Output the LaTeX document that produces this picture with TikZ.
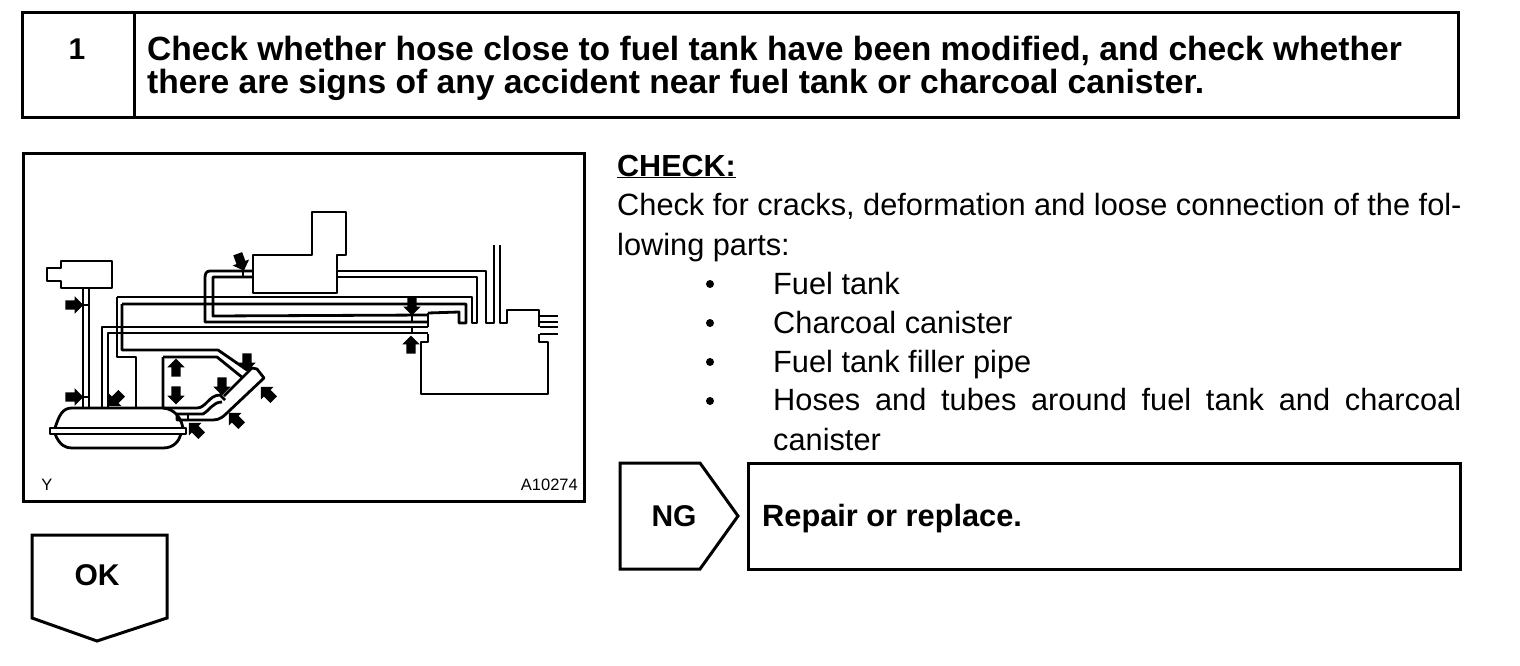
\documentclass[tikz,border=0pt]{standalone}
\usepackage{fontspec}
\setmainfont{Liberation Sans}
\usetikzlibrary{shapes.arrows}
\tikzset{
  boxline/.style={line width=3pt,line join=miter},
  partline/.style={line width=2.8pt,line join=round},
  flagarrow/.style={single arrow,fill=black,inner xsep=0pt,inner ysep=4.5pt,minimum width=17pt,
    minimum height=18pt,single arrow head extend=4pt,single arrow head indent=0pt},
  headtext/.style={font=\fontsize{33.6}{33}\selectfont\bfseries,anchor=west,align=left,inner sep=0pt},
  bodytext/.style={font=\fontsize{30.75}{40}\selectfont,anchor=base west,inner sep=0pt,align=left},
  dottext/.style={circle,fill=black,inner sep=0pt,minimum size=8pt},
  smalltext/.style={font=\fontsize{16.5}{18}\selectfont,inner sep=0pt}
}
\begin{document}
\begin{tikzpicture}[x=1pt,y=-1pt]
  \useasboundingbox (0,0) rectangle (1520,666);
  % header
  \draw[boxline] (22,13) rectangle (1458,118);
  \draw[boxline] (134,13) -- (134,118);
  \node[headtext,anchor=center,font=\fontsize{30}{33}\selectfont\bfseries] (num) at (77,49) {1};
  \node[headtext] (title) at (147,68) {Check whether hose close to fuel tank have been modified, and check whether\\there are signs of any accident near fuel tank or charcoal canister.};
  % figure frame
  \draw[boxline] (23,153) rectangle (584,501);
  \node[smalltext] (figy) at (47,485) {Y};
  \node[smalltext,anchor=east] (figno) at (578,485) {A10274};
  % parts
  \begin{scope}[partline]
    % canister at left
    \draw (47,268) -- (61,268) -- (61,261) -- (112,261) -- (112,288) -- (61,288) -- (61,281) -- (47,281) -- cycle;
    \draw (83,288) -- (83,408) (89,288) -- (89,408);
    \draw (83,305) -- (89,305) (83,397) -- (89,397);
    % tank
    \draw (50,428) rectangle (186,434);
    \draw (55,428) .. controls (59,416) and (62,408) .. (72,408) -- (163,408) .. controls (175,409) and (181,418) .. (183,428);
    \draw (55,434) .. controls (60,446) and (66,448) .. (72,448) -- (163,448) .. controls (174,448) and (179,441) .. (181,434);
    % pipes along the top
    \draw (102,408) -- (102,327) -- (428,327);
    \draw (108,408) -- (108,333) -- (428,333);
    \draw (117,297) -- (117,357) -- (136,357) -- (136,408) -- (108,408);
    \draw (117,297) -- (472,297) -- (472,323) -- (477,323) -- (477,277) -- (337,277);
    \draw (122,304) -- (122,350) -- (218,350) -- (247,370);
    \draw (122,304) -- (466,304) -- (466,323) -- (459,323) -- (459,312) -- (428,313);
    % loop round the box
    \draw (337,271) -- (486,271) -- (486,323) -- (494,323) -- (494,245);
    \draw (500,245) -- (500,323) -- (507,323) -- (507,310) -- (539,310) -- (539,327);
    \draw (253,271) -- (210,271) .. controls (206,271) and (205,274) .. (205,278) -- (205,322) -- (428,322);
    \draw (253,277) -- (213,277) -- (213,316) -- (428,315);
    % box above
    \draw (253,255) -- (312,255) -- (312,212) -- (346,212) -- (346,255) -- (337,255) -- (337,293) -- (253,293) -- cycle;
    % box at right
    \draw (428,313) -- (428,327) (428,334) -- (428,342) -- (421,342) -- (421,394) -- (548,394) -- (548,342) -- (539,342) -- (539,334);
    \draw (540,316) -- (558,316) (540,322) -- (558,322) (540,327) -- (558,327) (540,334) -- (558,334);
    \draw (412,315) -- (412,322) (412,327) -- (412,334) (243,271) -- (243,277);
    % filler pipe
    \draw (163,357) -- (217,357) -- (243,378);
    \draw (163,357) -- (163,408) -- (197,408) .. controls (206,408) and (209,395) .. (220,395) -- (225,400);
    \draw (177,414) -- (177,420) -- (213,420) .. controls (220,420) and (224,416) .. (228,412) -- (264,378) -- (257,369) -- (252,368) -- (224,396);
    \draw (177,414) -- (203,414) .. controls (210,410) and (213,402) .. (222,402);
    \draw (188,414) -- (188,420);
  \end{scope}
  % arrows to the points to check
  \node[flagarrow] (ptone) at (72,305) {};
  \node[flagarrow] (pttwo) at (72,397) {};
  \node[flagarrow,rotate=225] (ptthree) at (117,398) {};
  \node[flagarrow,rotate=90] (ptfour) at (176,370) {};
  \node[flagarrow,rotate=270] (ptfive) at (176,393) {};
  \node[flagarrow,rotate=270] (ptsix) at (222,384) {};
  \node[flagarrow,rotate=270] (ptseven) at (247,360) {};
  \node[flagarrow,rotate=135] (pteight) at (269,395) {};
  \node[flagarrow,rotate=135] (ptnine) at (237,421) {};
  \node[flagarrow,rotate=135] (ptten) at (197,431) {};
  \node[flagarrow,rotate=290] (ptelev) at (240,260) {};
  \node[flagarrow,rotate=270] (pttwel) at (412,304) {};
  \node[flagarrow,rotate=90] (ptthir) at (411,347) {};
  % text at right
  \node[bodytext,font=\fontsize{30.5}{40}\selectfont\bfseries] (chk) at (617,176) {\underline{CHECK:}};
  \node[bodytext,anchor=north west] (para) at (617,193) {Check for cracks, deformation and loose connection of the fol-\\lowing parts:};
  \foreach \i/\y/\t in {a/284/Fuel tank,b/323/Charcoal canister,c/362/Fuel tank filler pipe}{
    \node[dottext] (dot\i) at (710,\y) {};
    \node[bodytext] (item\i) at (773,\y+10) {\t};
  }
  \node[dottext] (dotd) at (710,401) {};
  \node[bodytext,text width=688pt,align=justify,anchor=north west] (itemd) at (773,388.5) {Hoses and tubes around fuel tank and charcoal canister};
  % NG branch
  \draw[boxline] (620,463) -- (700,463) -- (738,516) -- (700,569) -- (620,569) -- cycle;
  \draw[boxline] (748,463) rectangle (1460,569);
  \node[headtext,font=\fontsize{30}{33}\selectfont\bfseries,anchor=center] (ng) at (674,516) {NG};
  \node[bodytext,font=\fontsize{30.75}{33}\selectfont\bfseries] (repair) at (762,526) {Repair or replace.};
  % OK branch
  \draw[boxline] (32,535) -- (167,535) -- (167,618) -- (97,641) -- (32,618) -- cycle;
  \node[headtext,font=\fontsize{30}{33}\selectfont\bfseries,anchor=center] (ok) at (97,575) {OK};
\end{tikzpicture}
\end{document}
